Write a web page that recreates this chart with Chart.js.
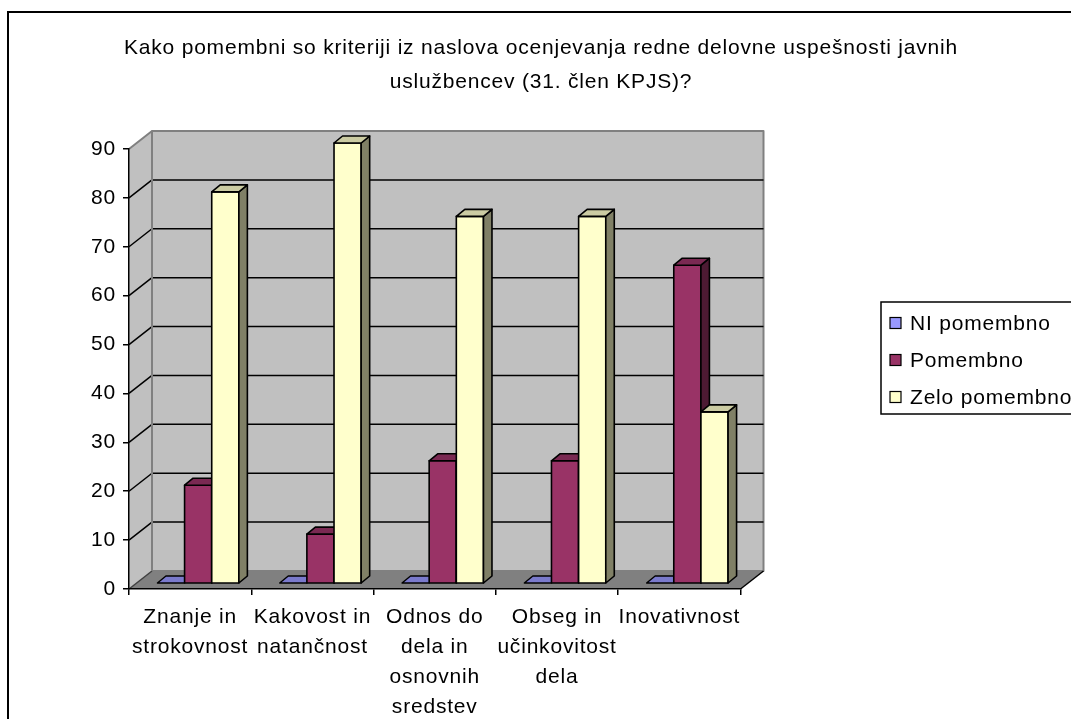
<!DOCTYPE html>
<html>
<head>
<meta charset="utf-8">
<script src="https://cdn.jsdelivr.net/npm/chart.js@4.4.1/dist/chart.umd.min.js"></script>
<style>
  html, body { margin: 0; padding: 0; background: #ffffff; }
  canvas { display: block; }
</style>
</head>
<body>
<canvas id="chart" width="1071" height="719"></canvas>
<script>
// Chart content
const titleLines = [
  "Kako pomembni so kriteriji iz naslova ocenjevanja redne delovne uspešnosti javnih",
  "uslužbencev (31. člen KPJS)?"
];
const categories = [
  ["Znanje in", "strokovnost"],
  ["Kakovost in", "natančnost"],
  ["Odnos do", "dela in", "osnovnih", "sredstev"],
  ["Obseg in", "učinkovitost", "dela"],
  ["Inovativnost"]
];
const seriesNames = ["NI pomembno", "Pomembno", "Zelo pomembno"];
const niPomembno = [0, 0, 0, 0, 0];
const pomembno = [20, 10, 25, 25, 65];
const zeloPomembno = [80, 90, 75, 75, 35];
const seriesColors = ["#9999FF", "#993366", "#FFFFCC"];
const yMin = 0, yMax = 90, yStep = 10;

// Drawing style
const FONT_FAMILY = '"Liberation Sans", Arial, sans-serif';
const FONT_SIZE = 21;
const LETTER_SPACING = '0.8px';
const WALL = { dx: 23, dy: -18 };          // depth of the walls/floor
const BAR = { ox: 8, oy: -6, dx: 8.5, dy: -7 }; // bar placement and depth
const WALL_FILL = '#C0C0C0';
const FLOOR_FILL = '#808080';
const EDGE_GRAY = '#808080';

function shade(hex, f) {
  const n = parseInt(hex.slice(1), 16);
  const r = Math.round(((n >> 16) & 255) * f);
  const g = Math.round(((n >> 8) & 255) * f);
  const b = Math.round((n & 255) * f);
  return `rgb(${r},${g},${b})`;
}

function poly(ctx, pts, fill, stroke, lw) {
  ctx.beginPath();
  ctx.moveTo(pts[0][0], pts[0][1]);
  for (let i = 1; i < pts.length; i++) ctx.lineTo(pts[i][0], pts[i][1]);
  ctx.closePath();
  if (fill) { ctx.fillStyle = fill; ctx.fill(); }
  if (stroke) { ctx.strokeStyle = stroke; ctx.lineWidth = lw || 1; ctx.stroke(); }
}

// Frame, title, walls, floor and gridlines, drawn under the axes
const backdrop = {
  id: 'backdrop',
  beforeDraw(chart) {
    const ctx = chart.ctx;
    const y = chart.scales.y;
    const area = chart.chartArea;
    const L = area.left, R = area.right;
    const yTop = y.getPixelForValue(yMax), yBot = y.getPixelForValue(yMin);
    const dx = WALL.dx, dy = WALL.dy;

    ctx.save();
    ctx.letterSpacing = LETTER_SPACING;

    // outer frame
    ctx.strokeStyle = '#000';
    ctx.lineWidth = 2;
    ctx.strokeRect(8, 12, 1200, 900);

    // title
    ctx.fillStyle = '#000';
    ctx.font = `${FONT_SIZE}px ${FONT_FAMILY}`;
    ctx.textAlign = 'center';
    ctx.textBaseline = 'middle';
    ctx.fillText(titleLines[0], 541, 48);
    ctx.fillText(titleLines[1], 541, 82);

    ctx.lineJoin = 'round';
    // side wall
    poly(ctx, [[L, yBot], [L, yTop], [L + dx, yTop + dy], [L + dx, yBot + dy]], WALL_FILL);
    // back wall
    poly(ctx, [[L + dx, yTop + dy], [R + dx, yTop + dy], [R + dx, yBot + dy], [L + dx, yBot + dy]], WALL_FILL, EDGE_GRAY, 2);
    // floor
    poly(ctx, [[L, yBot], [R, yBot], [R + dx, yBot + dy], [L + dx, yBot + dy]], FLOOR_FILL);
    ctx.strokeStyle = '#000';
    ctx.lineWidth = 1.5;
    ctx.beginPath();
    ctx.moveTo(R, yBot); ctx.lineTo(R + dx, yBot + dy);
    ctx.stroke();
    ctx.strokeStyle = '#404040';
    ctx.beginPath();
    ctx.moveTo(L, yBot); ctx.lineTo(L + dx, yBot + dy);
    ctx.stroke();

    // gridlines on the side and back walls
    for (let v = yMin + yStep; v < yMax; v += yStep) {
      const py = y.getPixelForValue(v);
      ctx.strokeStyle = '#000';
      ctx.lineWidth = 1.5;
      ctx.beginPath();
      ctx.moveTo(L, py);
      ctx.lineTo(L + dx, py + dy);
      ctx.lineTo(R + dx, py + dy);
      ctx.stroke();
    }
    // top edge of the side wall and back wall left edge
    ctx.strokeStyle = EDGE_GRAY;
    ctx.lineWidth = 2;
    ctx.beginPath();
    ctx.moveTo(L, yTop); ctx.lineTo(L + dx, yTop + dy);
    ctx.moveTo(L + dx, yTop + dy); ctx.lineTo(L + dx, yBot + dy);
    ctx.stroke();
    ctx.restore();

    // tick labels share the same letter spacing
    ctx.letterSpacing = LETTER_SPACING;
  }
};

// 3D columns built from the bar elements laid out by the scales
const columns3d = {
  id: 'columns3d',
  beforeDatasetsDraw(chart) {
    const ctx = chart.ctx;
    const y = chart.scales.y;
    const base = y.getPixelForValue(0) + BAR.oy;
    ctx.save();
    ctx.lineJoin = 'round';
    const n = chart.data.labels.length;
    for (let j = 0; j < n; j++) {
      chart.data.datasets.forEach((ds, i) => {
        const el = chart.getDatasetMeta(i).data[j];
        const v = ds.data[j];
        const col = seriesColors[i];
        const x0 = el.x - el.width / 2 + BAR.ox;
        const x1 = x0 + el.width;
        const yt = y.getPixelForValue(v) + BAR.oy;
        const dx = BAR.dx, dy = BAR.dy;
        if (v > 0) {
          poly(ctx, [[x0, yt], [x1, yt], [x1, base], [x0, base]], col, '#000', 1.6);
          poly(ctx, [[x1, yt], [x1 + dx, yt + dy], [x1 + dx, base + dy], [x1, base]], shade(col, 0.5), '#000', 1.6);
          poly(ctx, [[x0, yt], [x0 + dx, yt + dy], [x1 + dx, yt + dy], [x1, yt]], shade(col, 0.8), '#000', 1.6);
        } else {
          poly(ctx, [[x0, base], [x0 + dx, base + dy], [x1 + dx, base + dy], [x1, base]], shade(col, 0.8), '#000', 1.4);
        }
      });
    }
    ctx.restore();
    return false;
  }
};

// Boxed legend at the right
const boxLegend = {
  id: 'boxLegend',
  afterDraw(chart) {
    const ctx = chart.ctx;
    ctx.save();
    ctx.letterSpacing = LETTER_SPACING;
    ctx.strokeStyle = '#000';
    ctx.lineWidth = 1.5;
    ctx.strokeRect(881, 302, 300, 112);
    ctx.font = `${FONT_SIZE}px ${FONT_FAMILY}`;
    ctx.textAlign = 'left';
    ctx.textBaseline = 'middle';
    const rows = [323, 360, 397];
    chart.data.datasets.forEach((ds, i) => {
      const cy = rows[i];
      ctx.fillStyle = seriesColors[i];
      ctx.fillRect(890, cy - 5.5, 11, 11);
      ctx.strokeStyle = '#000';
      ctx.lineWidth = 1.2;
      ctx.strokeRect(890, cy - 5.5, 11, 11);
      ctx.fillStyle = '#000';
      ctx.fillText(ds.label, 910, cy + 1);
    });
    ctx.restore();
  }
};

new Chart(document.getElementById('chart'), {
  type: 'bar',
  data: {
    labels: categories,
    datasets: [
      { label: seriesNames[0], data: niPomembno, backgroundColor: seriesColors[0] },
      { label: seriesNames[1], data: pomembno, backgroundColor: seriesColors[1] },
      { label: seriesNames[2], data: zeloPomembno, backgroundColor: seriesColors[2] }
    ]
  },
  options: {
    responsive: false,
    animation: false,
    events: [],
    datasets: { bar: { categoryPercentage: 0.666, barPercentage: 1.0 } },
    layout: { padding: { left: 0, right: 330.5, top: 149, bottom: 0 } },
    plugins: {
      legend: { display: false },
      title: { display: false },
      tooltip: { enabled: false }
    },
    scales: {
      x: {
        grid: { offset: true, drawOnChartArea: false, tickLength: 6, tickColor: '#000', lineWidth: 1.5 },
        border: { color: '#000', width: 1.5 },
        ticks: {
          color: '#000', padding: 7, maxRotation: 0, autoSkip: false,
          font: { family: FONT_FAMILY, size: FONT_SIZE, lineHeight: 30 / FONT_SIZE }
        },
        afterFit(scale) { scale.height = 130; }
      },
      y: {
        min: yMin, max: yMax,
        grid: { drawOnChartArea: false, tickLength: 6, tickColor: '#000', lineWidth: 1.5 },
        border: { color: '#000', width: 1.5 },
        ticks: {
          stepSize: yStep, color: '#000', padding: 7,
          font: { family: FONT_FAMILY, size: FONT_SIZE }
        },
        afterFit(scale) { scale.width = 129; }
      }
    }
  },
  plugins: [backdrop, columns3d, boxLegend]
});
</script>
</body>
</html>
